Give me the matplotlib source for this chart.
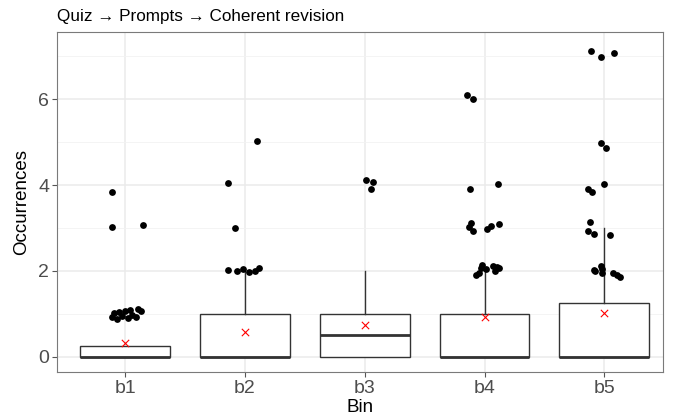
import numpy as np
import matplotlib.pyplot as plt

plt.rcParams['font.family'] = ['Liberation Sans', 'DejaVu Sans']

bins = ['b1', 'b2', 'b3', 'b4', 'b5']

# box summaries per bin
q1 = [0, 0, 0, 0, 0]
med = [0, 0, 0.5, 0, 0]
q3 = [0.25, 1, 1, 1, 1.25]
whis_lo = [0, 0, 0, 0, 0]
whis_hi = [0.25, 2, 2, 2, 3]
means = [0.33, 0.58, 0.74, 0.94, 1.02]

# jittered points: (bin index, x jitter, value)
pt_bin = [0] * 15 + [1] * 9 + [2] * 3 + [3] * 19 + [4] * 20
pt_dx = [
    -0.11, -0.11, 0.15,
    -0.11, -0.09, -0.07, -0.05, -0.03, 0.0, 0.02, 0.04, 0.06, 0.09, 0.11, 0.13,
    0.10, -0.14, -0.08, -0.14, -0.07, -0.02, 0.03, 0.08, 0.12,
    0.01, 0.07, 0.05,
    -0.15, -0.10, -0.12, 0.11, -0.11, -0.13, -0.10, 0.05, 0.02, 0.12,
    -0.02, -0.03, 0.01, -0.05, -0.07, 0.07, 0.10, 0.12, 0.09,
    -0.11, -0.03, 0.08, -0.03, 0.01, 0.0, -0.14, -0.10, -0.12, -0.14, -0.09, 0.05,
    -0.09, -0.08, -0.03, -0.02, -0.02, 0.07, 0.11, 0.13,
]
pt_y = [
    3.84, 3.03, 3.07,
    0.92, 1.02, 0.88, 1.05, 0.95, 1.08, 0.90, 1.10, 0.98, 0.93, 1.12, 1.06,
    5.03, 4.04, 2.99, 2.02, 2.00, 2.05, 1.98, 1.99, 2.08,
    4.12, 4.08, 3.90,
    6.09, 6.01, 3.90, 4.02, 3.12, 3.03, 2.92, 3.05, 2.97, 3.09,
    2.14, 2.06, 2.05, 1.95, 1.90, 2.12, 2.09, 2.06, 2.01,
    7.12, 6.97, 7.08, 4.97, 4.86, 4.02, 3.91, 3.84, 3.13, 2.92, 2.86, 2.84,
    2.02, 1.99, 2.12, 2.05, 1.95, 1.95, 1.91, 1.85,
]

fig = plt.figure(figsize=(6.83, 4.18), dpi=100)
ax = fig.add_axes([57 / 683, 1 - 372 / 418, 606 / 683, 340 / 418])

pos = np.arange(1, len(bins) + 1)
stats = [dict(q1=a, med=b, q3=c, whislo=d, whishi=e, label=l)
         for a, b, c, d, e, l in zip(q1, med, q3, whis_lo, whis_hi, bins)]
ax.bxp(stats, positions=pos, widths=0.75, showcaps=False, showfliers=False,
       patch_artist=True,
       boxprops=dict(facecolor='white', edgecolor='#333333', linewidth=1.0),
       whiskerprops=dict(color='#333333', linewidth=1.0),
       medianprops=dict(color='#333333', linewidth=2.0),
       zorder=2)

px = pos[np.array(pt_bin)] + np.array(pt_dx)
ax.scatter(px, pt_y, s=24, color='black', zorder=3, linewidths=0)
ax.scatter(pos, means, marker='x', s=28, color='red', linewidths=0.8, zorder=4)

ax.set_xlim(0.43, 5.49)
ax.set_ylim(-0.35, 7.56)
ax.set_xticks(pos)
ax.set_xticklabels(bins)
ax.set_yticks([0, 2, 4, 6])
ax.set_yticks([1, 3, 5, 7], minor=True)
ax.grid(True, which='major', color='#EBEBEB', linewidth=1.1, zorder=0)
ax.grid(True, which='minor', axis='y', color='#F2F2F2', linewidth=0.6, zorder=0)
ax.set_axisbelow(True)
for s in ax.spines.values():
    s.set_color('#7A7A7A')
    s.set_linewidth(0.8)
ax.tick_params(axis='both', which='major', colors='#555555', labelcolor='#4D4D4D',
               labelsize=14, length=3.5, width=0.8, pad=2)
ax.tick_params(axis='y', which='minor', length=0)

ax.set_xlabel('Bin', fontsize=13.5, labelpad=2)
ax.set_ylabel('Occurrences', fontsize=13.5, labelpad=6)
ax.set_title('Quiz \u2192 Prompts \u2192 Coherent revision', fontsize=12.3, loc='left',
             pad=8)

fig.savefig('out.png', dpi=100)
